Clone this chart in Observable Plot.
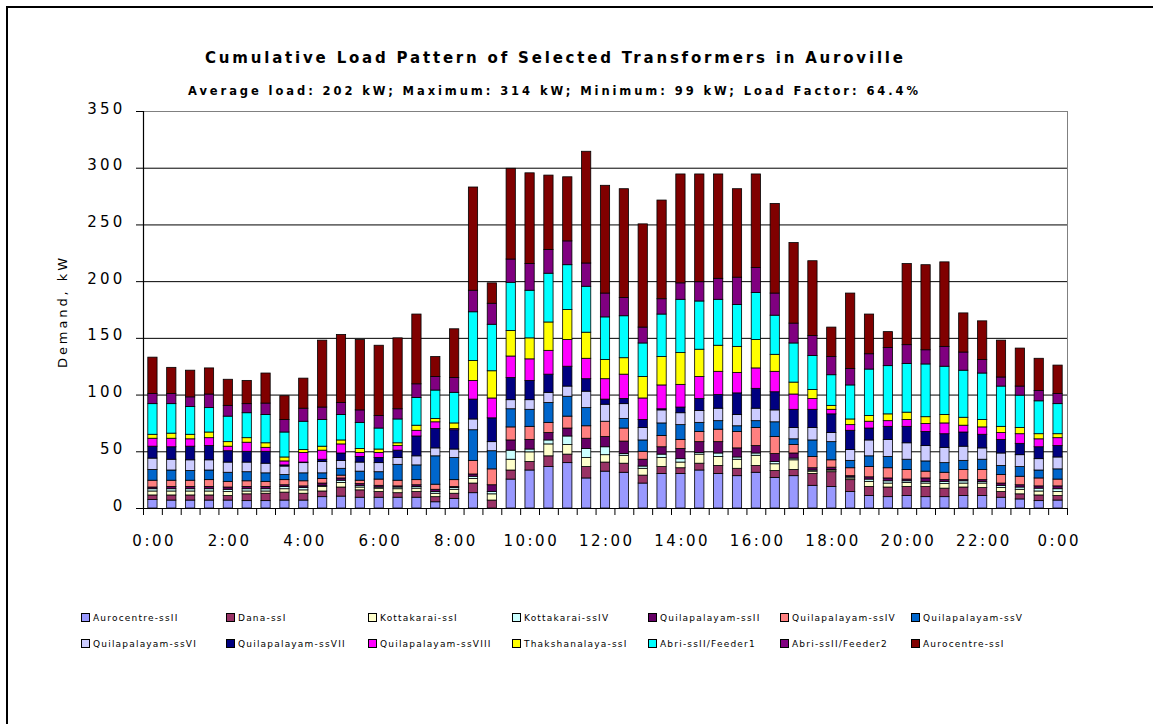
<!DOCTYPE html>
<html><head><meta charset="utf-8">
<script src="https://cdn.jsdelivr.net/npm/d3@7"></script>
<script src="https://cdn.jsdelivr.net/npm/@observablehq/plot@0.6"></script>
<style>
html,body{margin:0;padding:0;background:#fff;overflow:hidden;}
#wrap{position:relative;width:1153px;height:724px;overflow:hidden;font-family:"DejaVu Sans",sans-serif;}
#frame{position:absolute;left:6px;top:6px;width:1200px;height:800px;border-left:2px solid #000;border-top:2px solid #000;}
#chart{position:absolute;left:0;top:0;}
#overlay{position:absolute;left:0;top:0;}
.sw{position:absolute;width:7px;height:7px;border:1px solid #000;}
#chart g[aria-label="x-axis tick label"] text{letter-spacing:2.5px;}
#chart g[aria-label="y-axis tick label"] text{letter-spacing:3.2px;}
</style></head>
<body><div id="wrap"><div id="frame"></div><div id="chart"></div><svg id="overlay" width="1153" height="724"></svg><div id="legend"></div></div>
<script>
const times = ["0:00","0:30","1:00","1:30","2:00","2:30","3:00","3:30","4:00","4:30","5:00","5:30","6:00","6:30","7:00","7:30","8:00","8:30","9:00","9:30","10:00","10:30","11:00","11:30","12:00","12:30","13:00","13:30","14:00","14:30","15:00","15:30","16:00","16:30","17:00","17:30","18:00","18:30","19:00","19:30","20:00","20:30","21:00","21:30","22:00","22:30","23:00","23:30","0:00"];

const seriesNames = ["Aurocentre-ssII","Dana-ssI","Kottakarai-ssI","Kottakarai-ssIV","Quilapalayam-ssII","Quilapalayam-ssIV","Quilapalayam-ssV","Quilapalayam-ssVI","Quilapalayam-ssVII","Quilapalayam-ssVIII","Thakshanalaya-ssI","Abri-ssII/Feeder1","Abri-ssII/Feeder2","Aurocentre-ssI"];
const seriesColors = ["#9999FF","#993366","#FFFFCC","#CCFFFF","#660066","#FF8080","#0066CC","#CCCCFF","#000080","#FF00FF","#FFFF00","#00FFFF","#800080","#800000"];

const aurocentreII = [7.5,7,7,7,7,6.5,6.5,7,7,10, 10.5,9.5,9.5,9.5,9.5,5.5,8.5,13.5,0,25.5, 33.5,36.5,40,26.5,32.5,31.5,22,30.5,30.5,33.5, 30.5,28.5,31.5,27,28.5,20,19,14.5,11,10, 11,10,10,11,11,9.5,8,6.5,7];
const danaI = [4,4.5,4.5,4.5,4,6,6.5,7,6,5, 8,6.5,5,4,5,4.5,4.5,8.5,7,8, 7.5,9.5,7.5,10,8,8,7,6,5,6, 7,6.5,6,6,5.5,10.5,13,10.5,8,8.5, 8,9,7.5,7.5,7,5,4.5,5,4];
const kottakaraiI = [3.5,3.5,3.5,3.5,3.5,2.5,2,3,3,4, 4,2.5,3,3.5,3,3,3.5,4,5.5,9.5, 8.5,10.5,8.5,8,6.5,7,6,8,5,8, 8,8,9,6,8.5,2,1.5,1.5,4.5,3.5, 3.5,3,4,3.5,4,3.5,4,3.5,3.5];
const kottakaraiIV = [2,2,2,2,2,2,2,2,2,1, 2,1.5,1,1.5,1.5,1.5,1.5,2,2,8, 2.5,3.5,7.5,8,7,1.5,2,3,3,1.5, 3,2,2,2,1.5,1,0.5,1,2,2, 1.5,1.5,2,2,1.5,2,2,2.5,2.5];
const quilapalayamII = [1.5,2,2,2,2,2,2,1.5,1.5,2, 2,1.5,1.5,1,1.5,2,1,2,6,9, 8.5,6.5,7,9,9,11,6,6.5,9,9.5, 10,8,6.5,7,4.5,2,2,1,2,2.5, 1.5,3,1.5,1,1.5,2,2,2,2.5];
const quilapalayamIV = [6,5.5,5.5,6,5,5,4.5,4.5,4.5,4, 2.5,3,5.5,5,4.5,4.5,6,12,14,11.5, 11.5,9,10.5,11,13.5,11.5,7,10,8,9, 11,14.5,16,15,7.5,10,6.5,7,9,9, 8.5,6,6.5,9,9,7.5,7.5,7,6];
const quilapalayamV = [9.5,9,8.5,8.5,8,8,7.5,4.5,7,5, 6,8,6.5,14,13,25,19.5,27,16,16, 15,17.5,17.5,16,0,8.5,10,11,13,8, 7.5,5,6,13,5,14.5,16,6.5,9.5,10, 9,9,8.5,8,9,8,8.5,7,9];
const quilapalayamVI = [10,9.5,9.5,9,9,8.5,8.5,7.5,9,10, 7,8,8,6,8,7,7.5,9.5,8,8, 8.5,9,9,14.5,15,13,11,11.5,10.5,10.5, 11,10,11,10.5,10,11,8,9.5,14,15, 14.5,13.5,13.5,12.5,10,11,10.5,10,10.5];
const quilapalayamVII = [10.5,11,12,12.5,10,9.5,10.5,1,0.5,2, 6.5,5,4.5,6.5,17.5,17,17,17.5,21,19.5, 17,16,17.5,11,4.5,4.5,7,1,5,10.5, 12,19,17.5,16,16,16,16.5,17,10.5,11.5, 14.5,12.5,12,12.5,12,12,10,10.5,10];
const quilapalayamVIII = [7,7.5,6.5,7,4,8,3.5,3.5,8.5,8, 8,3.5,4.5,4,5,6,1,16.5,17.5,19, 19,21,23.5,18,18,21.5,19,21,20,19.5, 20.5,18,18,18,13.5,9.5,4,5,6,5, 6,7,9.5,6,6.5,6,8.5,7,7];
const thakshanalayaI = [3.5,4.5,4,5,4,4,4,3.5,2.5,3.5, 3.5,3.5,3,2.5,4.5,3,5,17.5,24,22.5, 18.5,25,26.5,23,17,14.5,19,25,28,24, 23,23,25,15,10.5,8,3.5,5,5,6, 6.5,6,7.5,7,6.5,5.5,5.5,4.5,3.5];
const abriFeeder1 = [27,26,24.5,21.5,22.5,22,25,22,25,23.5, 22.5,23,18.5,21,24.5,25,27,43,41,42.5, 42,43,39.5,40.5,37.5,37,29.5,37.5,47,42.5, 40.5,37,41.5,34.5,34.5,30,27,30,41,42.5, 43,46.5,42.5,41.5,41,35.5,28.5,29,26.5];
const abriFeeder2 = [9,9,8.5,12,9.5,8,10,11,11.5,11, 10.5,11,11,9,12,12,13,19,18.5,20.5, 23.5,21,21,20.5,21,16,14,13.5,14.5,17, 18.5,24,22,19.5,17.5,17.5,16,14.5,13.5,16, 16.5,12.5,17.5,16,12,8,8,9,9];
const aurocentreI = [32,23,23.5,23,23,20.5,26.5,21,26.5,59, 60,62,62,62.5,61.5,17.5,43,91,18,80, 80,65.5,56.5,98.5,95,96,91,87,96,95, 92,78,82.5,79,71,66,26,66.5,35,14, 71.5,75,74.5,34.5,34,32.5,33.5,28.5,25];

const yTicks = [0,50,100,150,200,250,300,350];
const titleText = "Cumulative Load Pattern of Selected Transformers in Auroville";
const subtitleText = "Average load: 202 kW; Maximum: 314 kW; Minimum: 99 kW; Load Factor: 64.4%";
const yTitle = "Demand, kW";

const seriesValues = [aurocentreII, danaI, kottakaraiI, kottakaraiIV, quilapalayamII, quilapalayamIV, quilapalayamV, quilapalayamVI, quilapalayamVII, quilapalayamVIII, thakshanalayaI, abriFeeder1, abriFeeder2, aurocentreI];

const table = [];
times.forEach((t, i) => {
  seriesNames.forEach((s, k) => table.push({i, time: t, series: s, value: seriesValues[k][i]}));
});

const n = times.length;
const labelIdx = d3.range(0, n, 4);

const chart = Plot.plot({
  width: 1153, height: 724,
  marginLeft: 143, marginRight: 86, marginTop: 111, marginBottom: 216,
  style: {fontFamily: '"DejaVu Sans", sans-serif', fontSize: "15px", color: "#000", background: "transparent", overflow: "visible"},
  x: {domain: [0, n], label: null, axis: null},
  y: {domain: [0, 350], label: null, axis: null},
  color: {domain: seriesNames, range: seriesColors},
  marks: [
    Plot.ruleY(yTicks.filter(v => v > 0 && v < 350), {stroke: "#000", strokeWidth: 1}),
    Plot.ruleY([350], {stroke: "#808080", strokeWidth: 1}),
    Plot.ruleX([n], {stroke: "#808080", strokeWidth: 1}),
    Plot.rectY(table, {x1: "i", x2: d => d.i + 1, y: "value", fill: "series", stroke: "#000", strokeWidth: 0.8, insetLeft: 4.8, insetRight: 4.8}),
    Plot.ruleX([0], {stroke: "#000", strokeWidth: 1.2}),
    Plot.ruleY([0], {stroke: "#000", strokeWidth: 1.2}),
    Plot.axisX({ticks: d3.range(0, n + 1), tickSize: 7, tickFormat: () => "", label: null, stroke: "#000"}),
    Plot.axisX({ticks: labelIdx.map(i => i + 0.5), tickSize: 0, tickPadding: 27, dx: 1.25, label: null, tickFormat: v => times[Math.round(v - 0.5)]}),
    Plot.axisY({ticks: yTicks, tickSize: 7, tickFormat: () => "", label: null, stroke: "#000"}),
    Plot.axisY({ticks: yTicks, tickSize: 0, tickPadding: 18, dy: -2.8, label: null})
  ]
});
document.getElementById("chart").appendChild(chart);

const ov = d3.select("#overlay");
ov.append("text").attr("x", 205).attr("y", 63).attr("textLength", 698).attr("lengthAdjust", "spacing")
  .attr("font-family", '"DejaVu Sans", sans-serif').attr("font-weight", "bold").attr("font-size", 15).text(titleText);
ov.append("text").attr("x", 188).attr("y", 95).attr("textLength", 730).attr("lengthAdjust", "spacing")
  .attr("font-family", '"DejaVu Sans", sans-serif').attr("font-weight", "bold").attr("font-size", 11.5).text(subtitleText);
ov.append("text").attr("transform", "translate(67,313) rotate(-90)").attr("text-anchor", "middle")
  .attr("textLength", 110).attr("lengthAdjust", "spacing")
  .attr("font-family", '"DejaVu Sans", sans-serif').attr("font-size", 13).text(yTitle);

// legend: swatches (HTML) + labels (SVG text with extra letter spacing)
const legend = document.getElementById("legend");
const colX = [81, 226, 368, 512, 648, 780, 911];
const rowY = [613, 639];
seriesNames.forEach((s, k) => {
  const c = k % 7, r = Math.floor(k / 7);
  const sw = document.createElement("div");
  sw.className = "sw";
  sw.style.left = colX[c] + "px"; sw.style.top = rowY[r] + "px";
  sw.style.background = seriesColors[k];
  legend.appendChild(sw);
  const t = ov.append("text").attr("x", colX[c] + 12).attr("y", rowY[r] + 7.5)
    .attr("font-family", '"DejaVu Sans", sans-serif').attr("font-size", 9).text(s);
  const w = t.node().getComputedTextLength();
  t.attr("textLength", w + (s.length - 1) * 1.2).attr("lengthAdjust", "spacing");
});
</script>
</body></html>
